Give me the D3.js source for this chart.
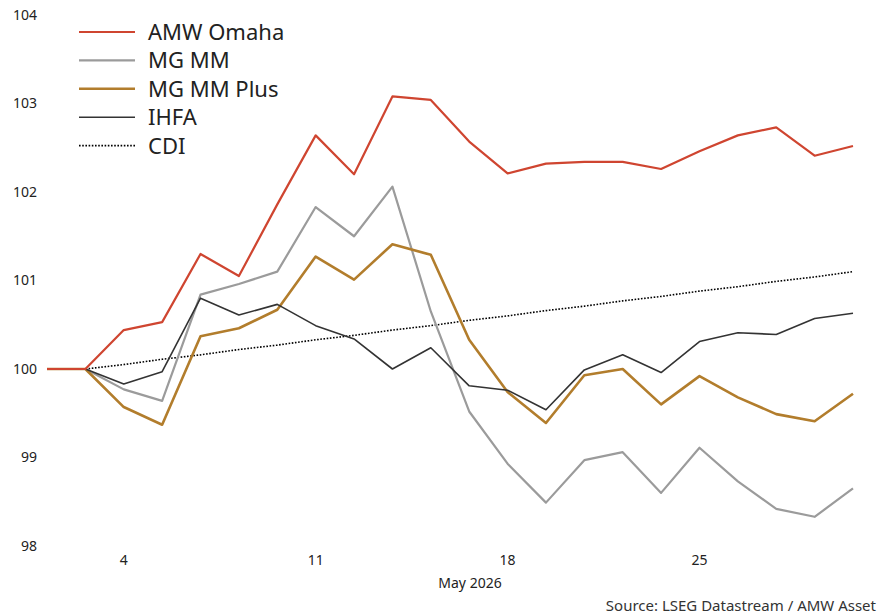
<!DOCTYPE html>
<html lang="en">
<head>
<meta charset="utf-8">
<title>AMW Omaha vs peers</title>
<script src="https://d3js.org/d3.v7.js"></script>
<style>
  body { margin: 0; background: #fff; }
  svg text { font-family: "Noto Sans", "Open Sans", sans-serif; fill: #222; }
</style>
</head>
<body>
<svg></svg>
<script>
// business days, Apr 30 .. May 29 2026
const days = ["30","1","4","5","6","7","8","11","12","13","14","15","18","19","20","21","22","25","26","27","28","29"];
const tickDays = ["4","11","18","25"];
const yTicks = [98, 99, 100, 101, 102, 103, 104];

const omaha = [100,100,100.44,100.53,101.30,101.05,101.86,102.64,102.20,103.08,103.04,102.57,102.21,102.32,102.34,102.34,102.26,102.46,102.64,102.73,102.41,102.52];
const mgmm = [100,100,99.77,99.64,100.84,100.96,101.10,101.83,101.50,102.06,100.65,99.52,98.93,98.49,98.97,99.06,98.60,99.11,98.73,98.42,98.33,98.65];
const mgmmPlus = [100,100,99.57,99.37,100.37,100.46,100.67,101.27,101.01,101.41,101.29,100.33,99.74,99.39,99.93,100.00,99.60,99.92,99.68,99.49,99.41,99.72];
const ihfa = [100,100,99.83,99.97,100.80,100.61,100.73,100.49,100.34,100.00,100.24,99.81,99.76,99.54,99.99,100.16,99.96,100.31,100.41,100.39,100.57,100.63];
const cdi = [100,100,100.05,100.11,100.16,100.22,100.27,100.33,100.38,100.44,100.49,100.55,100.60,100.66,100.71,100.77,100.82,100.88,100.93,100.99,101.04,101.10];

const w = 879, h = 616;
const svg = d3.select("svg").attr("width", w).attr("height", h);

const x = d3.scalePoint().domain(d3.range(days.length)).range([47, 853]);
const y = d3.scaleLinear().domain([98, 104]).range([546, 15]);

// y axis labels
svg.append("g").selectAll("text").data(yTicks).join("text")
  .attr("x", 37).attr("y", d => y(d)).attr("dy", "0.35em")
  .attr("text-anchor", "end").style("font-size", "14px")
  .text(d => d);

// x axis labels
svg.append("g").selectAll("text").data(tickDays).join("text")
  .attr("x", d => x(days.indexOf(d))).attr("y", 565)
  .attr("text-anchor", "middle").style("font-size", "14px")
  .text(d => d);

svg.append("text").attr("x", 470).attr("y", 588).attr("text-anchor", "middle")
  .style("font-size", "14px").text("May 2026");

svg.append("text").attr("x", 876).attr("y", 611).attr("text-anchor", "end")
  .style("font-size", "15px").style("fill", "#333").text("Source: LSEG Datastream / AMW Asset");

const series = [
  {name: "AMW Omaha", values: omaha, color: "#cf4530", width: 2.2, dash: null},
  {name: "MG MM", values: mgmm, color: "#9b9b9b", width: 2.2, dash: null},
  {name: "MG MM Plus", values: mgmmPlus, color: "#b27d2c", width: 2.6, dash: null},
  {name: "IHFA", values: ihfa, color: "#333333", width: 1.6, dash: null},
  {name: "CDI", values: cdi, color: "#000000", width: 1.6, dash: "1.6,1.6"}
];

const line = d3.line().x((d, i) => x(i)).y(d => y(d));

// draw in order so that lower lines are under
const drawOrder = [4, 1, 2, 3, 0];
drawOrder.forEach(k => {
  const s = series[k];
  svg.append("path").datum(s.values)
    .attr("fill", "none").attr("stroke", s.color)
    .attr("stroke-width", s.width)
    .attr("stroke-linejoin", "round")
    .attr("stroke-dasharray", s.dash)
    .attr("d", line);
});

// legend
const legend = svg.append("g");
series.forEach((s, i) => {
  const ly = 32 + i * 28.4;
  legend.append("line").attr("x1", 79).attr("x2", 135).attr("y1", ly).attr("y2", ly)
    .attr("stroke", s.color).attr("stroke-width", s.width)
    .attr("stroke-dasharray", s.dash);
  legend.append("text").attr("x", 148).attr("y", ly).attr("dy", "0.36em")
    .style("font-size", "22px").text(s.name);
});
</script>
</body>
</html>
